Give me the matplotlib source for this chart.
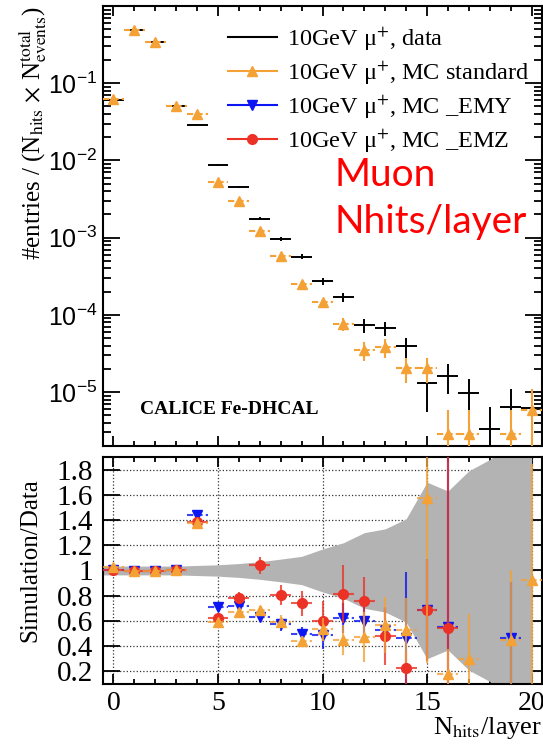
import matplotlib
matplotlib.use('Agg')
import matplotlib.pyplot as plt
from matplotlib.lines import Line2D
from matplotlib.ticker import FixedLocator, LogLocator, NullFormatter, FuncFormatter, MultipleLocator, LogFormatterMathtext
import numpy as np

plt.rcParams['font.family'] = 'Liberation Serif'
plt.rcParams['mathtext.fontset'] = 'stix'

nan = np.nan

# ── per-layer hit multiplicity, 10 GeV muons ────────────────────────────────
nhits = np.arange(21)

data = np.array([0.0600, 0.490, 0.346, 0.051, 0.029, 0.00875, 0.00449, 0.00177,
                 0.00097, 0.000567, 0.000275, 0.00017, 7.4e-5, 6.8e-5, 3.9e-5,
                 1.3e-5, 1.63e-5, 9.8e-6, 3.3e-6, 6.5e-6, 6.3e-6])
data_err = np.array([3e-4, 1.2e-3, 1.0e-3, 4e-4, 3e-4, 1.6e-4, 1.2e-4, 7e-5,
                     5.5e-5, 4e-5, 2.9e-5, 2.3e-5, 1.5e-5, 1.4e-5, 1.1e-5,
                     7.5e-6, 7e-6, 5e-6, 3.2e-6, 4.5e-6, 4.5e-6])

mc_std = np.array([0.0616, 0.488, 0.344, 0.051, 0.040, 0.0052, 0.00302, 0.00122,
                   0.000577, 0.00025, 0.000147, 7.66e-5, 3.5e-5, 3.85e-5, 2.05e-5,
                   2.05e-5, 2.9e-6, 2.9e-6, nan, 2.9e-6, 5.8e-6])
mc_std_err = np.array([3e-4, 1.3e-3, 1.1e-3, 3.5e-4, 3e-4, 9e-5, 7e-5, 4e-5,
                       2.5e-5, 1.6e-5, 1.3e-5, 1.4e-5, 1e-5, 1.05e-5, 7.5e-6,
                       7.5e-6, 2.9e-6, 2.9e-6, nan, 2.9e-6, 5e-6])

# ratios to data
ratio_std = mc_std / data
ratio_std_err = np.array([0.01, 0.005, 0.005, 0.01, 0.02, 0.02, 0.025, 0.03,
                          0.05, 0.04, 0.09, 0.12, 0.2, 0.22, 0.26,
                          1.31, 0.2, 0.36, nan, 0.56, 0.92])

ratio_emy = np.array([1.0, 0.995, 0.995, 1.0, 1.44, 0.707, 0.72, 0.635, 0.573,
                      0.495, 0.49, 0.625, 0.6, 0.525, 0.465, 0.69, 0.55,
                      nan, nan, 0.465, nan])
ratio_emy_err = np.array([0.015, 0.005, 0.005, 0.01, 0.02, 0.02, 0.025, 0.03,
                          0.05, 0.06, 0.11, 0.12, 0.15, 0.18, 0.52,
                          0.4, 1.4, nan, nan, 0.44, nan])

ratio_emz = np.array([1.005, 0.995, 0.995, 1.005, 1.387, 0.627, 0.781, 1.04,
                      0.808, 0.741, 0.6, 0.812, 0.757, 0.48, 0.227, 0.686, 0.547,
                      nan, nan, nan, nan])
ratio_emz_err = np.array([0.01, 0.005, 0.005, 0.01, 0.02, 0.025, 0.045, 0.07,
                          0.08, 0.1, 0.16, 0.23, 0.19, 0.23, 0.13, 0.4, 1.4,
                          nan, nan, nan, nan])

# relative statistical uncertainty of the data (grey band)
data_band = np.array([0.035, 0.035, 0.035, 0.035, 0.04, 0.045, 0.055, 0.07,
                      0.09, 0.112, 0.17, 0.22, 0.3, 0.33, 0.41, 0.7, 0.63,
                      0.79, 0.88, 1.0, 1.0])

C_DATA = 'black'
C_STD = '#f4a136'
C_EMY = '#0b16f2'
C_EMZ = '#ec3126'
DASH = (0, (3, 1.5))

fig = plt.figure(figsize=(5.43, 7.45), dpi=100)
ax1 = fig.add_axes([0.1897, 0.4013, 0.8085, 0.5906])
ax2 = fig.add_axes([0.1897, 0.0819, 0.8085, 0.3047])


def points(ax, y, yerr, color, marker, ms, dashed=False, alpha=1.0, z=3):
    eb = ax.errorbar(nhits, y, xerr=0.5, yerr=yerr, fmt=marker, color=color,
                     mec=color, ms=ms, elinewidth=1.5, capsize=0, zorder=z)
    for bars in eb[2]:
        bars.set_alpha(alpha)
    if dashed:
        eb[2][0].set_linestyle(DASH)
    return eb


# ── upper panel: distributions ───────────────────────────────────────────────
ax1.set_yscale('log')
ax1.errorbar(nhits, data, xerr=0.5, yerr=data_err, fmt='none', ecolor=C_DATA,
             elinewidth=1.4, capsize=0, zorder=3)
points(ax1, mc_std, mc_std_err, C_STD, '^', 7, dashed=True, z=4)

ax1.set_xlim(-0.5, 20.5)
ax1.set_ylim(2e-6, 1)
ax1.yaxis.set_major_locator(FixedLocator([1e-5, 1e-4, 1e-3, 1e-2, 1e-1]))
ax1.yaxis.set_major_formatter(LogFormatterMathtext())
ax1.yaxis.set_minor_locator(LogLocator(base=10, subs=np.arange(2, 10), numticks=20))
ax1.yaxis.set_minor_formatter(NullFormatter())
ax1.xaxis.set_major_locator(MultipleLocator(5))
ax1.xaxis.set_minor_locator(MultipleLocator(1))
ax1.xaxis.set_major_formatter(NullFormatter())
ax1.tick_params(which='both', direction='in', top=True, right=True, width=1.3)
ax1.tick_params(axis='y', which='major', length=12, pad=4, labelsize=18)
ax1.tick_params(axis='y', which='minor', length=6)
ax1.tick_params(axis='x', which='major', length=7)
ax1.tick_params(axis='x', which='minor', length=3.5)
for lab in ax1.get_yticklabels():
    lab.set_fontfamily('Liberation Sans')

ax1.set_ylabel(r'#entries / (N$_{\mathrm{hits}}$ $\times$ N$^{\mathrm{total}}_{\mathrm{events}}$)',
               fontsize=18, loc='top')
ax1.yaxis.set_label_coords(-0.16, 1.0)
ax1.yaxis.label.set_verticalalignment('center')

handles = [Line2D([], [], color=C_DATA, lw=1.5),
           Line2D([], [], color=C_STD, lw=1.5, marker='^', ms=7),
           Line2D([], [], color=C_EMY, lw=1.5, marker='v', ms=7),
           Line2D([], [], color=C_EMZ, lw=1.5, marker='o', ms=7)]
labels = ['10GeV μ$^{+}$, data', '10GeV μ$^{+}$, MC standard',
          '10GeV μ$^{+}$, MC _EMY', '10GeV μ$^{+}$, MC _EMZ']
ax1.legend(handles, labels, loc='upper left', bbox_to_anchor=(0.285, 0.956),
           frameon=False, fontsize=17.5, handlelength=2.0, handletextpad=0.42,
           labelspacing=0.27, borderpad=0, borderaxespad=0)

ax1.text(0.084, 0.082, 'CALICE Fe-DHCAL', transform=ax1.transAxes, fontsize=14,
         fontweight='bold', ha='left', va='center')
ax1.text(0.528, 0.616, 'Muon', transform=ax1.transAxes, fontsize=28,
         color='#ff0000', family='Lato', ha='left', va='center')
ax1.text(0.528, 0.509, 'Nhits/layer', transform=ax1.transAxes, fontsize=28,
         color='#ff0000', family='Lato', ha='left', va='center')

# ── lower panel: simulation / data ───────────────────────────────────────────
band_x = np.r_[-0.5, nhits]
band_w = np.r_[data_band[0], data_band]
ax2.fill_between(band_x, 1 - band_w, 1 + band_w, color='#b3b3b3', lw=0, zorder=1)

points(ax2, ratio_emy, ratio_emy_err, C_EMY, 'v', 7, dashed=True, alpha=0.8, z=3)
points(ax2, ratio_emz, ratio_emz_err, C_EMZ, 'o', 7, alpha=0.8, z=4)
points(ax2, ratio_std, ratio_std_err, C_STD, '^', 7, dashed=True, alpha=0.8, z=5)

ax2.set_xlim(-0.5, 20.5)
ax2.set_ylim(0.1, 1.9)
ax2.set_axisbelow(True)
ax2.grid(True, which='major', ls=':', color='#333333', lw=0.9)
ax2.yaxis.set_major_locator(FixedLocator([0.2, 0.4, 0.6, 0.8, 1.0, 1.2, 1.4, 1.6, 1.8]))
ax2.yaxis.set_major_formatter(FuncFormatter(lambda v, p: '%g' % v))
ax2.xaxis.set_major_locator(MultipleLocator(5))
ax2.xaxis.set_minor_locator(MultipleLocator(1))
ax2.tick_params(which='both', direction='in', top=True, right=True, width=1.3)
ax2.tick_params(axis='y', which='major', length=12, pad=7, labelsize=21)
ax2.tick_params(axis='x', which='major', length=7, pad=5, labelsize=20)
ax2.tick_params(axis='x', which='minor', length=3.5)

ax2.set_ylabel('Simulation/Data', fontsize=18)
ax2.yaxis.set_label_coords(-0.166, 0.546)
ax2.yaxis.label.set_verticalalignment('center')
ax2.set_xlabel(r'N$_{\mathrm{hits}}$/layer', fontsize=19, loc='right', labelpad=-1)

for ax in (ax1, ax2):
    for sp in ax.spines.values():
        sp.set_linewidth(1.5)

fig.savefig('out.png', dpi=100, facecolor='white')
